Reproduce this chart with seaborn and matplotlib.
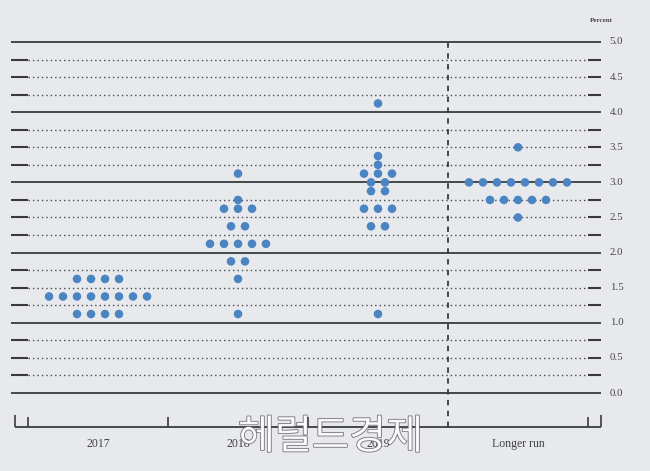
import numpy as np
import pandas as pd
import seaborn as sns
import matplotlib.pyplot as plt
import matplotlib.patheffects as pe

# =========================
# Data (midpoint of target range, percent)
# =========================
periods = ["2017", "2018", "2019", "Longer run"]

rates_2017 = [1.125, 1.375, 1.625]
counts_2017 = [4, 8, 4]

rates_2018 = [1.125, 1.625, 1.875, 2.125, 2.375, 2.625, 2.75, 3.125]
counts_2018 = [1, 1, 2, 5, 2, 3, 1, 1]

rates_2019 = [1.125, 2.375, 2.625, 2.875, 3.0, 3.125, 3.25, 3.375, 4.125]
counts_2019 = [1, 2, 3, 2, 2, 3, 1, 1, 1]

rates_long = [2.5, 2.75, 3.0, 3.5]
counts_long = [1, 5, 8, 1]

y_ticks = [0.0, 0.5, 1.0, 1.5, 2.0, 2.5, 3.0, 3.5, 4.0, 4.5, 5.0]

# build one row per dot, spreading dots of the same rate side by side
rows = []
for i, (rates, counts) in enumerate([(rates_2017, counts_2017), (rates_2018, counts_2018),
                                     (rates_2019, counts_2019), (rates_long, counts_long)]):
    for r, n in zip(rates, counts):
        for k in range(n):
            rows.append({"period": periods[i], "x": i + (k - (n - 1) / 2) * 0.1, "rate": r})
dots = pd.DataFrame(rows)

# =========================
# Plot
# =========================
sns.set_theme(style="white")
plt.rcParams['font.family'] = ['Liberation Serif', 'DejaVu Serif']

bg = '#e8e9ed'
lc = '#3a3a3e'

fig = plt.figure(figsize=(6.5, 4.71), dpi=100)
fig.patch.set_facecolor(bg)
ax = fig.add_axes([15 / 650, 0, 586 / 650, 1])
ax.set_facecolor(bg)
ax.set_xlim(-0.593, 3.593)
ax.set_ylim(-1.111, 5.598)

# grid: solid at whole percents, dotted at quarters with short solid ends
ax.hlines(range(6), -0.62, 3.59, color=lc, lw=1.3, clip_on=False)
quarters = [q for q in np.arange(0.25, 5, 0.25) if q % 1]
ax.hlines(quarters, -0.5, 3.5, color='#48484e', lw=1.0, linestyles=(0, (1, 2.2)))
ax.hlines(quarters, -0.62, -0.5, color=lc, lw=1.5, clip_on=False)
ax.hlines(quarters, 3.5, 3.59, color=lc, lw=1.5, clip_on=False)

# separator before longer run
ax.vlines(2.5, -0.484, 5.0, color=lc, lw=1.3, linestyles=(0, (3, 3)))

# bottom axis with ticks
ax.hlines(-0.484, -0.593, 3.593, color=lc, lw=1.3, clip_on=False)
ax.vlines([-0.593, 3.593], -0.484, -0.31, color=lc, lw=1.2, clip_on=False)
ax.vlines([-0.5, 0.5, 1.5, 3.5], -0.484, -0.335, color=lc, lw=1.2)

sns.scatterplot(data=dots, x="x", y="rate", ax=ax, s=38, color='#4a85c2',
                edgecolor='none', legend=False, zorder=3)
ax.set_xlabel('')
ax.set_ylabel('')
ax.axis('off')

for i, p in enumerate(periods):
    ax.text(i, -0.72, p, ha='center', va='center', fontsize=8.5, color='#404048')

for t in y_ticks:
    ax.text(3.655, t, f'{t:.1f}', ha='left', va='center', fontsize=7.8,
            color='#46464c', clip_on=False)
ax.text(3.593, 5.31, 'Percent', ha='center', va='center', fontsize=5, color='#46464c',
        fontweight='bold', clip_on=False)

# newspaper watermark
ax.text(1.66, -0.63, '헤럴드경제', ha='center', va='center', fontsize=29,
        family=['Noto Sans CJK KR', 'DejaVu Sans'], fontweight='light',
        color='white', alpha=0.9, zorder=5,
        path_effects=[pe.withStroke(linewidth=1.1, foreground='#606066')])

fig.savefig('out.png', dpi=100, facecolor=bg)
